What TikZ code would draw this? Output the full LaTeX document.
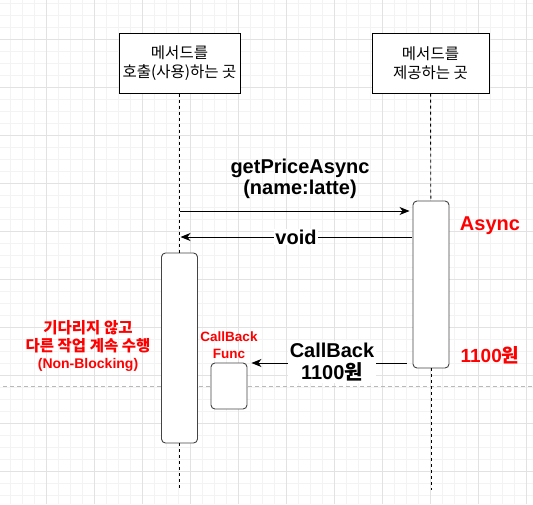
\documentclass[tikz,border=0pt]{standalone}
\usepackage{xcolor}
\usepackage{fontspec}
\setmainfont{Liberation Sans}
\newfontfamily\kr{Noto Sans CJK KR}
\usepackage{tikz}
\usetikzlibrary{arrows, arrows.meta, positioning, calc}

\definecolor{minorgrid}{HTML}{F3F3F3}
\definecolor{majorgrid}{HTML}{E2E2E2}
\definecolor{boxline}{HTML}{444444}

\begin{document}
\begin{tikzpicture}[x=1pt,y=-1pt,>={Stealth[length=10pt,width=8pt,inset=3pt]},
			head box/.style={draw=black,line width=1pt,fill=white,align=center,inner sep=0pt,
				font=\kr\fontsize{15.5}{19.5}\selectfont},
			act box/.style={draw=boxline,line width=0.9pt,fill=white,rounded corners=4pt,
				minimum width=36pt,inner sep=0pt},
			life line/.style={dash pattern=on 3pt off 3pt,line width=0.9pt},
			msg line/.style={->,line width=1pt},
			msg label/.style={fill=white,align=center,inner sep=1pt,
				font=\bfseries\fontsize{20}{21.5}\selectfont},
			note red/.style={text=red,align=center,inner sep=0pt}]

			% background grid
			\useasboundingbox (0,0) rectangle (533,504);
			\fill[white] (0,0) rectangle (533,504);
			\foreach \i in {0,...,43} \draw[minorgrid,line width=0.6pt] (10+12*\i,0) -- ++(0,504);
			\foreach \i in {0,...,41} \draw[minorgrid,line width=0.6pt] (0,3+12*\i) -- ++(533,0);
			\foreach \i in {0,...,10} \draw[majorgrid,line width=0.8pt] (46+48*\i,0) -- ++(0,504);
			\foreach \i in {0,...,9} \draw[majorgrid,line width=0.8pt] (0,39+48*\i) -- ++(533,0);
			\draw[gray!55,dash pattern=on 4pt off 3pt,line width=0.6pt] (3,386) -- (533,386);

			% participants
			\node[head box,minimum width=121pt,minimum height=60pt] (caller) at (179.5,63) {메서드를\\호출(사용)하는 곳};
			\node[head box,minimum width=117pt,minimum height=60pt] (provider) at (430.5,63) {메서드를\\제공하는 곳};

			% activations
			\node[act box,minimum height=167pt] (provAct) at (431,284.5) {};
			\node[act box,minimum height=190pt] (callAct) at (179.5,348) {};
			\node[act box,minimum height=46pt] (cbBox) at (229,386) {};

			\coordinate (callEnd) at (179.5,490);
			\coordinate (provEnd) at (431,490);
			\draw[life line] (caller) -- (callAct);
			\draw[life line] (callAct) -- (callEnd);
			\draw[life line] (provider) -- (provAct);
			\draw[life line] (provAct) -- (provEnd);

			% messages
			\coordinate (callY) at (179.5,211);
			\coordinate (voidY) at (431,237);
			\coordinate (backY) at (431,363);
			\draw[msg line] (callY) -- ([xshift=-3pt]callY -| provAct.west);
			\draw[msg line] ([xshift=-1pt]voidY -| provAct.west) -- ([xshift=1pt]voidY -| callY);
			\draw[msg line] ([xshift=-6pt]backY -| provAct.west) -- ([xshift=4pt]backY -| cbBox.east);

			\node[msg label,fill=none] (callLbl) at (300,179) {getPriceAsync\\(name:latte)};
			\node[msg label] (voidLbl) at (296,237) {void};
			\node[msg label,inner sep=2pt] (backLbl) at (332,362) {CallBack\\1100{\kr\bfseries 원}};

			% notes
			\node[note red,font=\bfseries\fontsize{20}{22}\selectfont] (asyncTxt) at (490,226) {Async};
			\node[note red,font=\bfseries\fontsize{19}{22}\selectfont] (wonTxt) at (490,355) {1100{\kr\bfseries 원}};
			\node[note red,font=\bfseries\fontsize{13.5}{16.5}\selectfont] (cbTxt) at (229,345) {CallBack\\Func};
			\node[note red,font=\bfseries\fontsize{14}{17.5}\selectfont] (nbTxt) at (88,346)
				{{\kr\fontsize{15.5}{17.5}\selectfont 기다리지 않고}\\{\kr\fontsize{15.5}{17.5}\selectfont 다른 작업 계속 수행}\\(Non-Blocking)};
		\end{tikzpicture}
\end{document}
